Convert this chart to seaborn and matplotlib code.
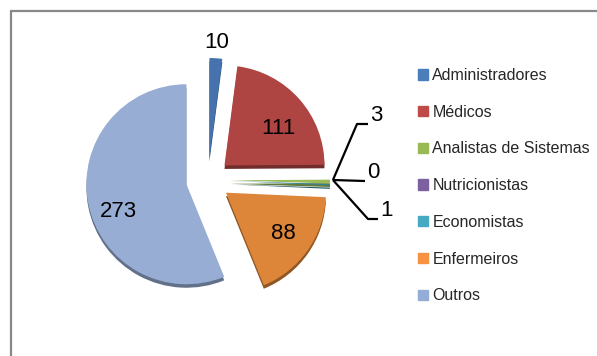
import numpy as np
import matplotlib.pyplot as plt
import matplotlib.patches as mpatches
import matplotlib.colors as mcolors
from matplotlib.lines import Line2D
import seaborn as sns

# dados do grafico
categorias = ["Administradores", "Médicos", "Analistas de Sistemas", "Nutricionistas",
              "Economistas", "Enfermeiros", "Outros"]
valores = [10, 111, 3, 0, 1, 88, 273]
cores = ["#4672AE", "#AE4543", "#9BBB59", "#7D60A0", "#31849B", "#DD8639", "#97ADD4"]
cores_legenda = ["#4A7EBB", "#BE4B48", "#98B954", "#7D60A0", "#46AAC5", "#F69240", "#94ADD6"]

# posicao dos rotulos (raio e ajuste de angulo) para as fatias grandes
rotulo_r = [1.38, 0.87, None, None, None, 0.92, 0.95]
rotulo_da = [0, -5, 0, 0, 0, 0, 8]
# linhas de chamada das fatias pequenas: (cotovelo, fim)
chamadas = {2: ((1.49, 0.56), (1.60, 0.56)),
            3: ((1.57, -0.01), (1.57, -0.01)),
            4: ((1.60, -0.39), (1.70, -0.39))}

sns.set_theme(style="white")
plt.rcParams["font.family"] = ["Liberation Sans", "DejaVu Sans"]

W, H = 597, 356
cx, cy = 208, 180
fig = plt.figure(figsize=(W / 100, H / 100), dpi=100)
ax = fig.add_axes([(cx - 200) / W, (H - cy - 150) / H, 400 / W, 300 / H])

explode = [0.22] * len(valores)
escuras = [tuple(np.array(mcolors.to_rgb(c)) * 0.65) for c in cores]

# "borda 3D" por baixo
ax.pie(valores, colors=escuras, explode=explode, startangle=90, counterclock=False,
       center=(0, -0.035), wedgeprops=dict(linewidth=0))
wedges, _ = ax.pie(valores, colors=cores, explode=explode, startangle=90,
                   counterclock=False, wedgeprops=dict(linewidth=0))

ax.set_xlim(-2, 2)
ax.set_ylim(-1.5, 1.5)
ax.set_aspect("auto")
ax.axis("off")

for i, w in enumerate(wedges):
    meio = np.deg2rad((w.theta1 + w.theta2) / 2)
    if rotulo_r[i] is not None:
        a = meio + np.deg2rad(rotulo_da[i])
        ax.text(rotulo_r[i] * np.cos(a), rotulo_r[i] * np.sin(a), str(valores[i]),
                ha="center", va="center", fontsize=16, color="black")

# chamadas das fatias pequenas
ponta = (1.25 * np.cos(np.deg2rad((wedges[2].theta1 + wedges[4].theta2) / 2)), 0.0)
for i, (cotovelo, fim) in chamadas.items():
    ax.plot([ponta[0], cotovelo[0], fim[0]], [ponta[1], cotovelo[1], fim[1]],
            color="black", lw=1.6, solid_capstyle="butt")
    ax.text(fim[0] + 0.02, fim[1] - 0.02, str(valores[i]), ha="left", va="bottom",
            fontsize=16, color="black")

handles = [mpatches.Patch(color=c, label=l) for c, l in zip(cores_legenda, categorias)]
fig.legend(handles=handles, loc="upper left", bbox_to_anchor=(418 / W, 1 - 68 / H),
           bbox_transform=fig.transFigure, frameon=False, fontsize=11.5,
           handlelength=0.62, handleheight=0.62, handletextpad=0.28,
           labelspacing=1.36, borderpad=0, borderaxespad=0)

# moldura (so topo e esquerda visiveis)
fig.add_artist(Line2D([11 / W, 1], [1 - 11 / H, 1 - 11 / H], color="#888888", lw=1.6,
                      transform=fig.transFigure))
fig.add_artist(Line2D([11 / W, 11 / W], [0, 1 - 11 / H], color="#888888", lw=1.6,
                      transform=fig.transFigure))

fig.savefig("out.png", dpi=100)
